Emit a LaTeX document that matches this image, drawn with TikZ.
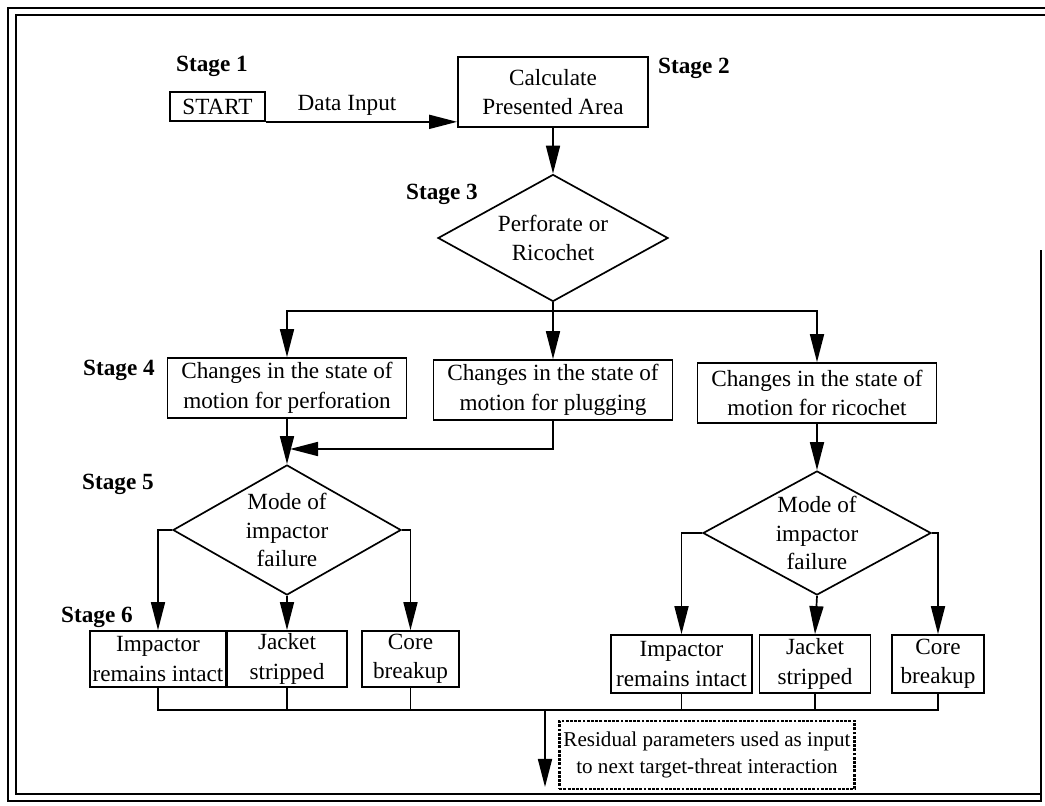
\documentclass[tikz,border=0pt]{standalone}
\usepackage{fontspec}
\setmainfont{Liberation Serif}
\usepackage{tikz}
\tikzset{box node/.style={rectangle,draw,line width=1.2pt,inner sep=2pt,align=center,font=\fontsize{16.5}{21}\selectfont},
decision node/.style={diamond,draw,line width=1.2pt,aspect=1.8,inner sep=0pt,align=center,font=\fontsize{16.5}{20}\selectfont},
stage label/.style={font=\fontsize{16.5}{20}\selectfont\bfseries},
flow/.style={line width=1.2pt,-{Triangle[length=0.7cm,width=0.35cm]}},
}
\usetikzlibrary{positioning,shapes.geometric,arrows.meta}

\begin{document}
\begin{tikzpicture}[x=0.025cm,y=-0.025cm]

			\useasboundingbox (0,0) rectangle (1045,806);
			%% frame
			\draw[line width=1.2pt] (1045,8) -- (8,8) -- (8,801) -- (1041,801) -- (1041,250);
			\draw[line width=1.2pt] (1045,15) -- (16,15) -- (16,794) -- (1041,794);

			%% stages 1-3
			\node[box node,minimum width=4.75cm,minimum height=1.75cm] (calc) at (553,92) {Calculate\\Presented Area};
			\node[box node,minimum width=2.375cm,minimum height=0.725cm] (start) at (217.5,106.5) {START};
			\node[font=\fontsize{16.5}{20}\selectfont] (datain) at (347,105) {Data Input};
			\node[decision node,minimum width=5.75cm,minimum height=3.175cm] (dec) at (553,238) {Perforate or\\Ricochet};

			\node[stage label] (s1) at (212,66) {Stage 1};
			\node[stage label] (s2) at (694,68) {Stage 2};
			\node[stage label] (s3) at (442,194) {Stage 3};

			\draw[flow] (start.south east) -- (start.south east -| calc.west);
			\draw[flow] (calc.south) -- (dec.north);

			%% stage 4
			\node[box node,minimum width=5.975cm,minimum height=1.5cm] (perf) at (287,388) {Changes in the state of\\motion for perforation};
			\node[box node,minimum width=5.975cm,minimum height=1.5cm] (plug) at (553,390) {Changes in the state of\\motion for plugging};
			\node[box node,minimum width=5.975cm,minimum height=1.5cm] (rico) at (817,393) {Changes in the state of\\motion for ricochet};
			\node[stage label] (s4) at (119,370) {Stage 4};

			\coordinate (split) at (553,311);
			\draw[flow] (dec.south) -- (plug.north);
			\draw[flow] (split) -| (perf.north);
			\draw[flow] (split) -| (rico.north);

			%% stage 5
			\node[decision node,minimum width=5.7cm,minimum height=3.25cm] (failL) at (287,530) {Mode of\\impactor\\failure};
			\node[decision node,minimum width=5.7cm,minimum height=3.1cm] (failR) at (817,533) {Mode of\\impactor\\failure};
			\node[stage label] (s5) at (118,484) {Stage 5};

			\coordinate (join) at (290,449);
			\draw[flow] (perf.south) -- (failL.north);
			\draw[flow] (plug.south) |- (join);
			\draw[flow] (rico.south) -- (failR.north);

			%% stage 6
			\node[box node,minimum width=3.3cm,minimum height=1.4cm] (impL) at (158,659) {Impactor\\remains intact};
			\node[box node,minimum width=3cm,minimum height=1.4cm] (jackL) at (287,659) {Jacket\\stripped};
			\node[box node,minimum width=2.425cm,minimum height=1.4cm] (coreL) at (410.5,659) {Core\\breakup};
			\node[box node,minimum width=3.525cm,minimum height=1.45cm] (impR) at (681.5,664) {Impactor\\remains intact};
			\node[box node,minimum width=2.775cm,minimum height=1.45cm] (jackR) at (815,664) {Jacket\\stripped};
			\node[box node,minimum width=2.3cm,minimum height=1.45cm] (coreR) at (938,664) {Core\\breakup};
			\node[stage label] (s6) at (97,617) {Stage 6};

			\draw[flow] (failL.west) -| (impL.north);
			\draw[flow] (failL.south) -- (jackL.north);
			\draw[flow] (failL.east) -| (coreL.north);
			\draw[flow] (failR.west) -| (impR.north);
			\draw[flow] (failR.south) -- (jackR.north);
			\draw[flow] (failR.east) -| (coreR.north);

			%% output
			\coordinate (bus) at (545,710);
			\coordinate (outend) at (545,787);
			\draw[line width=1.2pt] (impL.south) |- (bus) -| (coreR.south);
			\path[draw,line width=1.2pt]
			(jackL.south) -- (jackL.south |- bus)
			(coreL.south) -- (coreL.south |- bus)
			(impR.south) -- (impR.south |- bus)
			(jackR.south) -- (jackR.south |- bus)
			;
			\draw[flow] (bus) -- (outend);
			\node[draw,densely dotted,line width=2pt,inner sep=3pt,align=center,font=\fontsize{15}{19}\selectfont,minimum width=7.25cm,minimum height=1.7cm] (resid) at (707,755) {Residual parameters used as input\\to next target-threat interaction};

\end{tikzpicture}
\end{document}
